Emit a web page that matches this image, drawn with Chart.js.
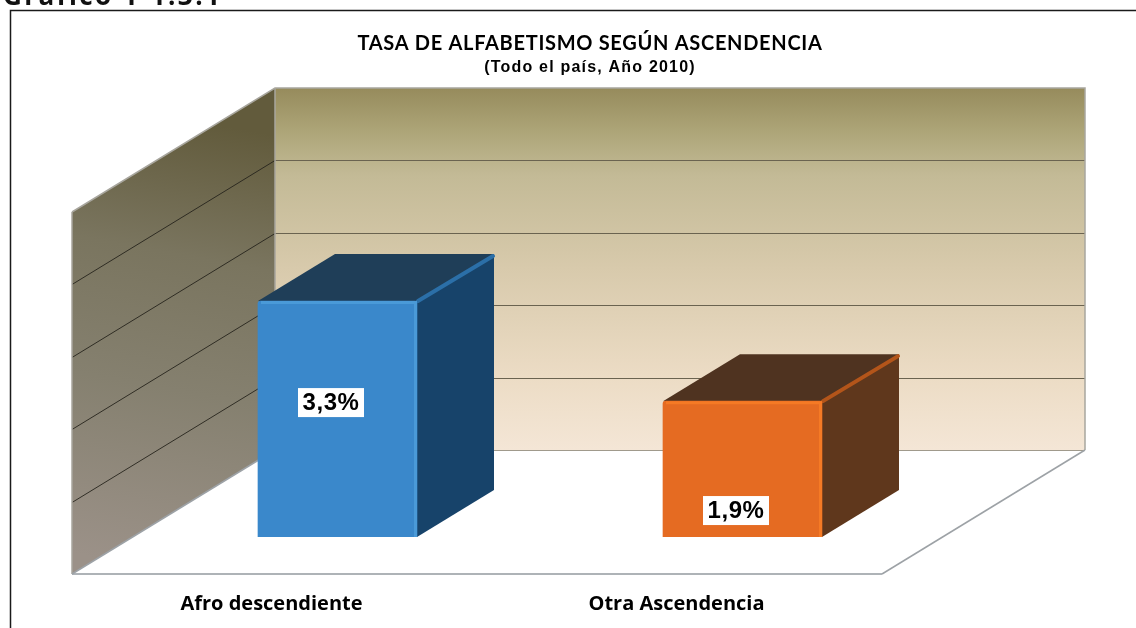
<!DOCTYPE html>
<html><head><meta charset="utf-8">
<style>html,body{margin:0;padding:0;background:#fff}canvas{display:block}</style>
<script src="https://cdn.jsdelivr.net/npm/chart.js@4/dist/chart.umd.js"></script>
</head><body>
<canvas id="c" width="1136" height="628"></canvas>
<script>
const categories = ['Afro descendiente', 'Otra Ascendencia'];
const values = [3.3, 1.9];
const valueLabels = ['3,3%', '1,9%'];
const labelAnchors = [1.88, 0.37];
const titleText = 'TASA DE ALFABETISMO SEGÚN ASCENDENCIA';
const subtitleText = '(Todo el país, Año 2010)';
const headingText = 'Gráfico 1-1.3.1';

const frontColors = ['#3a88cb', '#e56b22'];
const sideColors = ['#17436a', '#5f371c'];
const topColors = ['#1f3e58', '#4f3320'];
const edgeColors = ['#2b6fa8', '#b3551a'];
const hiColors = ['#4a9ad8', '#f57a25'];

const FLOOR = {x:-63, y:37};   // front edge of floor relative to bar plane
const WALL = {x:140, y:-87};   // back wall relative to bar plane
const DEPTH = {x:77, y:-47};   // bar depth
const WALL_SCALE = 72.4/71.5;

function poly(ctx, pts, fill, stroke, lw){
  ctx.beginPath();
  pts.forEach((p,i)=> i?ctx.lineTo(p[0],p[1]):ctx.moveTo(p[0],p[1]));
  ctx.closePath();
  if(fill){ctx.fillStyle=fill;ctx.fill();}
  if(stroke){ctx.strokeStyle=stroke;ctx.lineWidth=lw||1;ctx.stroke();}
}
function spaced(obj, method, spacing){
  const orig=obj[method];
  obj[method]=function(...args){
    const c=this.ctx; c.letterSpacing=spacing;
    orig.apply(this,args);
    c.letterSpacing='0px';
  };
}

const scene = {
  id:'scene',
  afterLayout(chart){
    if(chart.$spaced) return;
    chart.$spaced=true;
    chart.boxes.forEach(b=>{
      if(b.options && b.options.text && b.position==='top'){
        b.left+=50; b.right+=50;
        spaced(b,'draw', b.options.text===titleText ? '0.7px' : '1.2px');
      }
    });
  },
  beforeDraw(chart){
    const ctx=chart.ctx;
    ctx.save();
    ctx.fillStyle='#fff';ctx.fillRect(0,0,chart.width,chart.height);
    ctx.strokeStyle='#1a1a1a';ctx.lineWidth=1.5;
    ctx.beginPath();ctx.moveTo(10.5,chart.height);ctx.lineTo(10.5,10.5);ctx.lineTo(chart.width,10.5);ctx.stroke();
    ctx.font='bold 26px "Open Sans"';
    ctx.letterSpacing='2.4px';
    ctx.fillStyle='#111';ctx.textBaseline='alphabetic';ctx.textAlign='left';
    ctx.fillText(headingText,3,5);
    ctx.letterSpacing='0px';
    ctx.restore();
  },
  beforeDatasetsDraw(chart){
    const ctx=chart.ctx, a=chart.chartArea, ys=chart.scales.y;
    const base=ys.getPixelForValue(0);
    const wy=v=>base+WALL.y-(base-ys.getPixelForValue(v))*WALL_SCALE;
    const xL=a.left+WALL.x, xR=a.right+WALL.x;
    const yB=wy(0), yT=wy(ys.max);
    const fL=a.left+FLOOR.x, fR=a.right+FLOOR.x, fY=base+FLOOR.y;
    const sideDy=fY-yB;
    ctx.save();
    // back wall
    const g=ctx.createLinearGradient(0,yT,0,yB);
    g.addColorStop(0,'#968b5c');g.addColorStop(0.12,'#ada578');g.addColorStop(0.24,'#c3ba96');
    g.addColorStop(0.5,'#d8caac');g.addColorStop(0.8,'#ecdcc5');g.addColorStop(1,'#f4e6d6');
    poly(ctx,[[xL,yT],[xR,yT],[xR,yB],[xL,yB]],g);
    // side wall
    const s=ctx.createLinearGradient(190,120,110,560);
    s.addColorStop(0,'#625b3c');s.addColorStop(0.3,'#7a755f');s.addColorStop(0.6,'#85806f');s.addColorStop(1,'#9b9188');
    poly(ctx,[[fL,yT+sideDy],[xL,yT],[xL,yB],[fL,fY]],s);
    // grid lines, from the value scale
    ys.ticks.forEach(t=>{
      if(t.value===0||t.value===ys.max) return;
      const y=Math.round(wy(t.value))+0.5;
      ctx.strokeStyle='#6a6350';ctx.lineWidth=1;
      ctx.beginPath();ctx.moveTo(xL,y);ctx.lineTo(xR,y);ctx.stroke();
      ctx.strokeStyle='#26241c';ctx.lineWidth=0.9;
      ctx.beginPath();ctx.moveTo(xL,y);ctx.lineTo(fL,y+sideDy);ctx.stroke();
    });
    // wall and floor edges
    ctx.lineWidth=1.5;ctx.strokeStyle='#a8a69e';
    ctx.beginPath();ctx.moveTo(fL,yT+sideDy);ctx.lineTo(fL,fY);ctx.stroke();
    ctx.beginPath();ctx.moveTo(fL,yT+sideDy);ctx.lineTo(xL,yT);ctx.lineTo(xR,yT);ctx.lineTo(xR,yB);ctx.stroke();
    ctx.beginPath();ctx.moveTo(xL,yT);ctx.lineTo(xL,yB);ctx.stroke();
    ctx.strokeStyle='#a09a8c';ctx.lineWidth=1;
    ctx.beginPath();ctx.moveTo(xL,yB+0.5);ctx.lineTo(xR,yB+0.5);ctx.stroke();
    ctx.strokeStyle='#aeb3b7';ctx.lineWidth=2;
    ctx.beginPath();ctx.moveTo(fL,fY);ctx.lineTo(fR,fY);ctx.stroke();
    ctx.strokeStyle='#9da2a6';ctx.lineWidth=1.5;
    ctx.beginPath();ctx.moveTo(fR,fY);ctx.lineTo(xR,yB);ctx.stroke();
    ctx.beginPath();ctx.moveTo(fL,fY);ctx.lineTo(xL,yB);ctx.stroke();
    // bar side and top faces
    chart.getDatasetMeta(0).data.forEach((bar,i)=>{
      const l=bar.x-bar.width/2,r=bar.x+bar.width/2,t=bar.y,b=bar.base;
      poly(ctx,[[r,t],[r+DEPTH.x,t+DEPTH.y],[r+DEPTH.x,b+DEPTH.y],[r,b]],sideColors[i]);
      poly(ctx,[[l,t],[l+DEPTH.x,t+DEPTH.y],[r+DEPTH.x,t+DEPTH.y],[r,t]],topColors[i]);
      ctx.strokeStyle=edgeColors[i];ctx.lineWidth=4;ctx.lineCap='round';
      ctx.beginPath();ctx.moveTo(r+1,t);ctx.lineTo(r+DEPTH.x-1,t+DEPTH.y+2);ctx.stroke();
    });
    ctx.restore();
  },
  afterDatasetsDraw(chart){
    const ctx=chart.ctx, ys=chart.scales.y;
    ctx.save();
    chart.getDatasetMeta(0).data.forEach((bar,i)=>{
      const l=bar.x-bar.width/2,r=bar.x+bar.width/2,t=bar.y,b=bar.base;
      ctx.strokeStyle=hiColors[i];ctx.lineWidth=3;ctx.lineCap='butt';
      ctx.beginPath();ctx.moveTo(l+3,t+1.5);ctx.lineTo(r-1.5,t+1.5);ctx.lineTo(r-1.5,b);ctx.stroke();
      const cx=bar.x-6.5, cy=ys.getPixelForValue(labelAnchors[i]);
      ctx.fillStyle='#fff';ctx.fillRect(cx-33,cy-14.5,66,29);
      ctx.font='bold 24px "Liberation Sans"';
      ctx.letterSpacing='0.6px';
      ctx.fillStyle='#000';ctx.textAlign='center';ctx.textBaseline='middle';
      ctx.fillText(valueLabels[i],cx,cy+1);
      ctx.letterSpacing='0px';
    });
    ctx.restore();
  }
};

new Chart(document.getElementById('c'),{
  type:'bar',
  data:{labels:categories,datasets:[{
    data:values,
    backgroundColor:frontColors,
    borderWidth:0,
    borderRadius:{topLeft:3,topRight:2,bottomLeft:0,bottomRight:0},
    borderSkipped:false,
    barThickness:159
  }]},
  options:{
    responsive:false,animation:false,
    layout:{padding:{left:135,right:191,top:32,bottom:0}},
    plugins:{
      legend:{display:false},tooltip:{enabled:false},
      title:{display:true,text:titleText,color:'#000',
        font:{family:'Lato',weight:'bold',size:20,lineHeight:1.2},padding:{top:0,bottom:2}},
      subtitle:{display:true,text:subtitleText,color:'#000',
        font:{family:'Liberation Sans',weight:'bold',size:16,lineHeight:1.2},padding:{top:0,bottom:102.3}}
    },
    scales:{
      x:{
        grid:{display:false},border:{display:false},
        ticks:{color:'#000',font:{family:'Open Sans',weight:'bold',size:20},padding:47,labelOffset:-66,maxRotation:0},
        afterFit(s){s.height=91;}
      },
      y:{
        min:0,max:5,
        grid:{display:false},border:{display:false},
        ticks:{display:false,stepSize:1},
        afterFit(s){s.width=0;}
      }
    }
  },
  plugins:[scene]
});
</script>
</body></html>
